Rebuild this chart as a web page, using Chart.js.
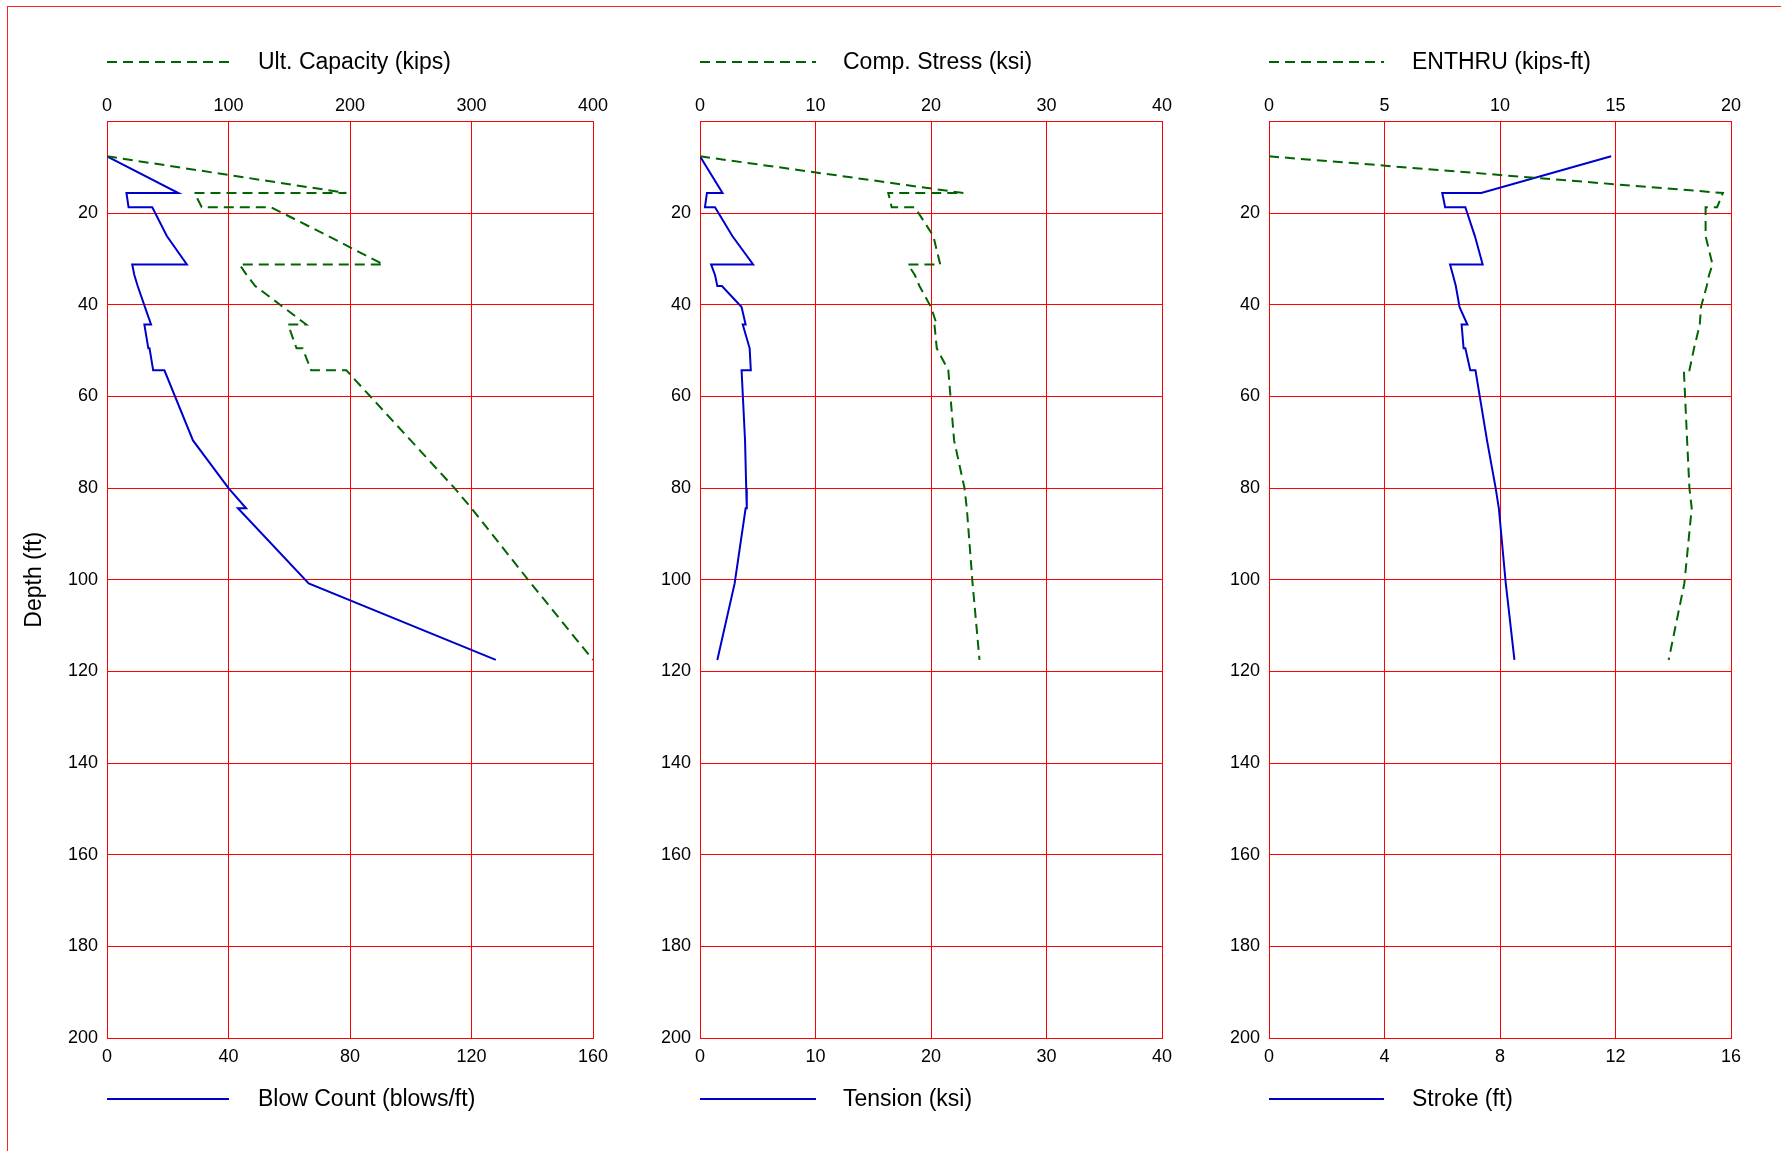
<!DOCTYPE html>
<html>
<head>
<meta charset="utf-8">
<script src="https://cdn.jsdelivr.net/npm/chart.js@4.4.0/dist/chart.umd.min.js"></script>
<style>
  html, body { margin: 0; padding: 0; background: #fff; }
  body { width: 1781px; height: 1151px; position: relative; overflow: hidden; }
  #frame { position: absolute; left: 7px; top: 6px; width: 1800px; height: 1200px;
           border-left: 1px solid #ff2020; border-top: 1px solid #ff2020; }
  canvas { position: absolute; top: 0; }
</style>
</head>
<body>
<div id="frame"></div>
<canvas id="c1" width="640" height="1151" style="left:0px"></canvas>
<canvas id="c2" width="600" height="1151" style="left:600px"></canvas>
<canvas id="c3" width="581" height="1151" style="left:1200px"></canvas>

<script>
// depth points (ft), shared by all series
const depth = [7.6, 15.6, 15.6, 18.7, 18.7, 25, 31.2, 31.2, 33.5, 35.9, 35.9, 40.5, 44.3, 44.3, 49.5, 49.5, 54.3, 54.3, 69.6, 80, 84.4, 84.4, 100.8, 117.5];

// top (dashed) series
const ultCapacity = [0, 197, 72, 78, 135, 182, 227.5, 109, 115, 122, 122, 145, 164, 149, 156, 161, 168, 197, 250, 286, 300, 300, 349, 400];
const compStress = [0, 22.8, 16.3, 16.6, 18.6, 20.2, 20.8, 18.0, 18.6, 19.0, 19.0, 20.0, 20.5, 20.3, 20.5, 20.5, 21.5, 21.5, 22.0, 22.9, 23.1, 23.1, 23.6, 24.2];
const enthru = [0, 19.65, 19.65, 19.4, 18.9, 18.9, 19.2, 19.2, 19.05, 18.95, 18.95, 18.7, 18.65, 18.65, 18.4, 18.4, 18.2, 17.96, 18.1, 18.2, 18.3, 18.3, 17.98, 17.3];

// bottom (solid) series
const blowCount = [0, 23.5, 6.4, 7.1, 14.9, 19.7, 26.3, 8.3, 9, 10.1, 10.1, 12.5, 14.5, 12.3, 13.6, 14, 15.2, 18.9, 28.3, 40, 45.8, 43.1, 66.4, 128];
const tension = [0, 1.95, 0.6, 0.43, 1.3, 2.8, 4.6, 0.96, 1.3, 1.5, 1.9, 3.6, 3.95, 3.7, 4.3, 4.3, 4.4, 3.6, 3.9, 4.0, 4.05, 3.95, 3.0, 1.5];
const stroke = [11.85, 7.35, 6.0, 6.1, 6.8, 7.13, 7.4, 6.27, 6.37, 6.47, 6.47, 6.6, 6.87, 6.67, 6.74, 6.8, 6.97, 7.15, 7.55, 7.85, 7.96, 7.96, 8.2, 8.5];

// axis ranges [max, step]
const depthTicks = [0, 200, 20];
const topRanges = [[400, 100], [40, 10], [20, 5]];
const bottomRanges = [[160, 40], [40, 10], [16, 4]];

const FONT = '"Liberation Sans", Arial, sans-serif';
const RED = 'rgb(255,0,0)';
const GREEN = 'rgb(0,100,0)';
const BLUE = 'rgb(0,0,205)';

// draws the dashed legend above and the solid legend below each panel
const panelLegend = {
  id: 'panelLegend',
  afterDraw(chart, args, opts) {
    const { ctx, chartArea } = chart;
    const x0 = chartArea.left;
    const rows = [
      { ds: chart.data.datasets[0], y: 62 },
      { ds: chart.data.datasets[1], y: 1099 }
    ];
    ctx.save();
    rows.forEach(r => {
      ctx.strokeStyle = r.ds.borderColor;
      ctx.lineWidth = 2;
      ctx.setLineDash(r.ds.borderDash || []);
      ctx.beginPath();
      ctx.moveTo(x0, r.y);
      ctx.lineTo(x0 + opts.lineLen, r.y);
      ctx.stroke();
      ctx.setLineDash([]);
      ctx.fillStyle = '#000';
      ctx.font = '23px ' + FONT;
      ctx.textBaseline = 'middle';
      ctx.fillText(r.ds.label, x0 + opts.textX, r.y + 1);
    });
    ctx.restore();
  }
};

function toPoints(vals) {
  return depth.map((d, i) => ({ x: vals[i], y: d }));
}

function makePanel(id, idx, topLabel, topVals, botLabel, botVals, yWidth, padRight, showTitle, lineLen, textX) {
  const [tMax, tStep] = topRanges[idx];
  const [bMax, bStep] = bottomRanges[idx];
  new Chart(document.getElementById(id), {
    type: 'line',
    data: {
      datasets: [
        {
          label: topLabel,
          data: toPoints(topVals),
          xAxisID: 'xTop',
          borderColor: GREEN,
          borderWidth: 2,
          borderDash: [10, 6],
          pointRadius: 0,
          tension: 0,
          fill: false
        },
        {
          label: botLabel,
          data: toPoints(botVals),
          xAxisID: 'xBottom',
          borderColor: BLUE,
          borderWidth: 2,
          pointRadius: 0,
          tension: 0,
          fill: false
        }
      ]
    },
    options: {
      responsive: false,
      animation: false,
      layout: { padding: { top: 90, bottom: 78, left: 0, right: padRight } },
      plugins: {
        legend: { display: false },
        tooltip: { enabled: false },
        panelLegend: { lineLen: lineLen, textX: textX }
      },
      scales: {
        y: {
          type: 'linear',
          position: 'left',
          reverse: true,
          min: depthTicks[0],
          max: depthTicks[1],
          afterFit: s => { s.width = yWidth; },
          ticks: {
            stepSize: depthTicks[2],
            padding: 9,
            color: '#000',
            font: { family: FONT, size: 18 },
            callback: v => (v === 0 ? '' : v)
          },
          grid: { color: RED, lineWidth: 1, drawTicks: false },
          border: { color: RED, width: 1 },
          title: {
            display: showTitle,
            text: 'Depth (ft)',
            color: '#000',
            font: { family: FONT, size: 23 },
            padding: { top: 21, bottom: 0 }
          }
        },
        xTop: {
          type: 'linear',
          position: 'top',
          min: 0,
          max: tMax,
          afterFit: s => { s.height = 31.5; },
          ticks: {
            stepSize: tStep,
            padding: 5,
            maxRotation: 0,
            color: '#000',
            font: { family: FONT, size: 18 }
          },
          grid: { color: RED, lineWidth: 1, drawTicks: false },
          border: { color: RED, width: 1 }
        },
        xBottom: {
          type: 'linear',
          position: 'bottom',
          min: 0,
          max: bMax,
          afterFit: s => { s.height = 35; },
          ticks: {
            stepSize: bStep,
            padding: 8,
            maxRotation: 0,
            color: '#000',
            font: { family: FONT, size: 18 }
          },
          grid: { display: false, drawTicks: false },
          border: { color: RED, width: 1 }
        }
      }
    },
    plugins: [panelLegend]
  });
}

makePanel('c1', 0, 'Ult. Capacity (kips)', ultCapacity, 'Blow Count (blows/ft)', blowCount, 107, 47, true, 122, 151);
makePanel('c2', 1, 'Comp. Stress (ksi)', compStress, 'Tension (ksi)', tension, 100, 38, false, 116, 143);
makePanel('c3', 2, 'ENTHRU (kips-ft)', enthru, 'Stroke (ft)', stroke, 69, 50, false, 115, 143);
</script>
</body>
</html>
